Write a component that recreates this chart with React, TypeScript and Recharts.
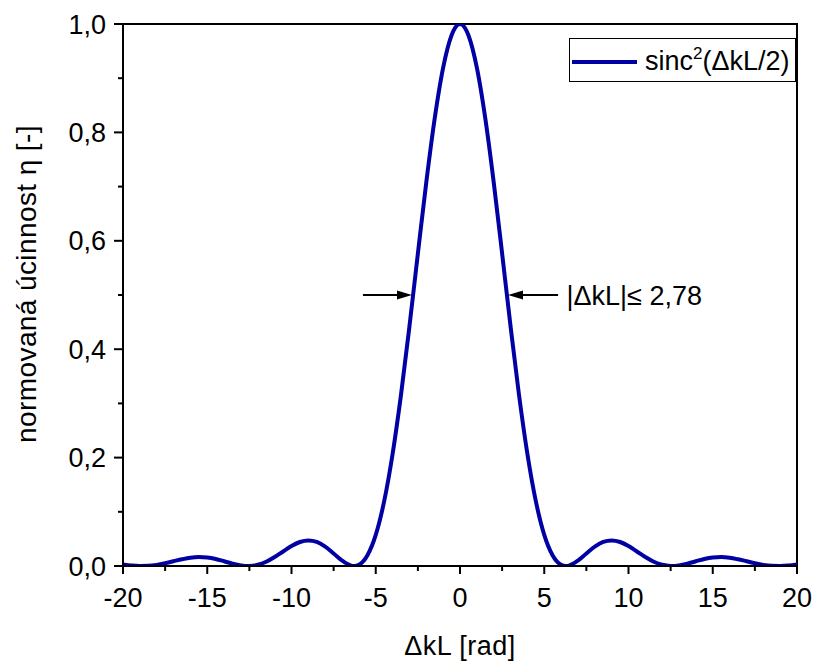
import React from 'react';
import {
  LineChart,
  Line,
  XAxis,
  YAxis,
  ReferenceArea,
  ReferenceLine,
  ReferenceDot,
  Legend,
  Label,
} from 'recharts';

const FONT = '"Liberation Sans", Arial, sans-serif';
const CURVE = '#0000A4';

// ΔkL [rad]
const dkl = [
  -20, -19.5, -19, -18.5, -18, -17.5, -17, -16.5, -16, -15.5, -15, -14.5, -14, -13.5, -13, -12.5, -12,
  -11.5, -11, -10.5, -10, -9.5, -9, -8.5, -8, -7.5, -7, -6.5, -6.28, -6, -5.5, -5, -4.5, -4, -3.5, -3,
  -2.5, -2, -1.5, -1, -0.5, 0, 0.5, 1, 1.5, 2, 2.5, 3, 3.5, 4, 4.5, 5, 5.5, 6, 6.28, 6.5, 7, 7.5, 8,
  8.5, 9, 9.5, 10, 10.5, 11, 11.5, 12, 12.5, 13, 13.5, 14, 14.5, 15, 15.5, 16, 16.5, 17, 17.5, 18,
  18.5, 19, 19.5, 20,
];

// normovaná účinnost η [-]
const eta = [
  0.003, 0.0011, 0.0001, 0.0004, 0.0021, 0.0051, 0.0088, 0.0124, 0.0153, 0.0165, 0.0156, 0.0129, 0.0088,
  0.0044, 0.0011, 0.0, 0.0022, 0.0078, 0.0165, 0.0268, 0.0368, 0.0443, 0.0472, 0.0443, 0.0358, 0.0232,
  0.01, 0.0011, 0.0, 0.0022, 0.0193, 0.0573, 0.1196, 0.2067, 0.3162, 0.4422, 0.5764, 0.7081, 0.826,
  0.9194, 0.9793, 1.0, 0.9793, 0.9194, 0.826, 0.7081, 0.5764, 0.4422, 0.3162, 0.2067, 0.1196, 0.0573,
  0.0193, 0.0022, 0.0, 0.0011, 0.01, 0.0232, 0.0358, 0.0443, 0.0472, 0.0443, 0.0368, 0.0268, 0.0165,
  0.0078, 0.0022, 0.0, 0.0011, 0.0044, 0.0088, 0.0129, 0.0156, 0.0165, 0.0153, 0.0124, 0.0088, 0.0051,
  0.0021, 0.0004, 0.0001, 0.0011, 0.003,
];

const xTicks = [-20, -17.5, -15, -12.5, -10, -7.5, -5, -2.5, 0, 2.5, 5, 7.5, 10, 12.5, 15, 17.5, 20];
const xMajor = [-20, -15, -10, -5, 0, 5, 10, 15, 20];
const yTicks = [0, 0.1, 0.2, 0.3, 0.4, 0.5, 0.6, 0.7, 0.8, 0.9, 1.0];
const yMajor = [0, 0.2, 0.4, 0.6, 0.8, 1.0];

const xTitle = 'ΔkL [rad]';
const yTitle = 'normovaná úcinnost η [-]';

// annotation: |ΔkL| ≤ 2,78 at η = 0.5
const annLevel = 0.5;
const annLeft = [-5.76, -2.85];
const annRight = [5.82, 2.85];
const annTextX = 6.32;
const annText = '|ΔkL|≤ 2,78';

const data = dkl.map((x, i) => ({ x, eta: eta[i] }));

const fmtY = (v: number) => v.toFixed(1).replace('.', ',');
const fmtX = (v: number) => String(v);

const XTick = (props: any) => {
  const { x, y, payload } = props;
  const v = payload.value;
  const major = xMajor.some((m) => Math.abs(m - v) < 1e-9);
  return (
    <g>
      <line x1={x} x2={x} y1={y} y2={y + (major ? 8 : 5)} stroke="#000" strokeWidth={2} />
      {major && (
        <text x={x} y={y + 41} textAnchor="middle" fontFamily={FONT} fontSize={27} fill="#000">
          {fmtX(v)}
        </text>
      )}
    </g>
  );
};

const YTick = (props: any) => {
  const { x, y, payload } = props;
  const v = payload.value;
  const major = yMajor.some((m) => Math.abs(m - v) < 1e-9);
  return (
    <g>
      <line x1={x - (major ? 9 : 5)} x2={x} y1={y} y2={y} stroke="#000" strokeWidth={2} />
      {major && (
        <text x={x - 17} y={y + 9.5} textAnchor="end" fontFamily={FONT} fontSize={27} fill="#000">
          {fmtY(v)}
        </text>
      )}
    </g>
  );
};

const Arrow = (props: any) => {
  const { x1, y1, x2, y2 } = props;
  const dir = x2 > x1 ? 1 : -1;
  const hl = 15;
  const hw = 4.5;
  return (
    <g>
      <line x1={x1} y1={y1} x2={x2 - dir * hl + dir * 1} y2={y2} stroke="#000" strokeWidth={2} />
      <polygon
        points={`${x2},${y2} ${x2 - dir * hl},${y2 - hw} ${x2 - dir * hl},${y2 + hw}`}
        fill="#000"
      />
    </g>
  );
};

const AnnText = (props: any) => {
  const { cx, cy } = props;
  return (
    <text x={cx} y={cy + 9.5} fontFamily={FONT} fontSize={27} fill="#000">
      {annText}
    </text>
  );
};

const YTitle = (props: any) => {
  const vb = props.viewBox || { x: 0, y: 24, width: 123, height: 542 };
  const cx = vb.x + 36;
  const cy = vb.y + vb.height / 2 - 11;
  return (
    <text
      x={cx}
      y={cy}
      transform={`rotate(-90 ${cx} ${cy})`}
      textAnchor="middle"
      fontFamily={FONT}
      fontSize={28}
      letterSpacing={0.4}
      fill="#000"
    >
      {yTitle}
    </text>
  );
};

const LegendBox = (props: any) => {
  const color = props.payload && props.payload[0] ? props.payload[0].color : CURVE;
  return (
    <svg width={227} height={44} style={{ display: 'block' }}>
      <rect x={0.5} y={0.5} width={226} height={43} fill="#fff" stroke="#000" strokeWidth={1} />
      <line x1={3} x2={68} y1={24} y2={24} stroke={color} strokeWidth={4} />
      <text x={76} y={32} fontFamily={FONT} fontSize={27} fill="#000">
        sinc
        <tspan fontSize={17} dy={-11}>
          2
        </tspan>
        <tspan dy={11}>(ΔkL/2)</tspan>
      </text>
    </svg>
  );
};

export default function App() {
  return (
    <div style={{ position: 'absolute', left: 0, top: 0, width: 814, height: 662, background: '#fff' }}>
      <LineChart
        width={814}
        height={662}
        data={data}
        margin={{ top: 24, right: 17, bottom: 0, left: 0 }}
        style={{ fontFamily: FONT }}
      >
        <ReferenceArea
          x1={-20}
          x2={20}
          y1={0}
          y2={1}
          fill="none"
          fillOpacity={0}
          stroke="#000"
          strokeWidth={2}
          ifOverflow="visible"
        />
        <XAxis
          type="number"
          dataKey="x"
          domain={[-20, 20]}
          ticks={xTicks}
          interval={0}
          tickSize={0}
          tickMargin={0}
          tickLine={false}
          tick={<XTick />}
          axisLine={{ stroke: '#000', strokeWidth: 2 }}
          height={96}
          allowDataOverflow
        >
          <Label
            value={xTitle}
            position="insideBottom"
            offset={7}
            style={{ fontFamily: FONT, fontSize: 27, fill: '#000', letterSpacing: 0.5 }}
          />
        </XAxis>
        <YAxis
          type="number"
          domain={[0, 1]}
          ticks={yTicks}
          interval={0}
          tickSize={0}
          tickMargin={0}
          tickLine={false}
          tick={<YTick />}
          axisLine={{ stroke: '#000', strokeWidth: 2 }}
          width={123}
          allowDataOverflow
        >
          <Label content={<YTitle />} />
        </YAxis>
        <Line
          type="monotone"
          dataKey="eta"
          name="sinc²(ΔkL/2)"
          stroke={CURVE}
          strokeWidth={4}
          dot={false}
          activeDot={false}
          isAnimationActive={false}
        />
        <ReferenceLine
          segment={[
            { x: annLeft[0], y: annLevel },
            { x: annLeft[1], y: annLevel },
          ]}
          shape={<Arrow />}
        />
        <ReferenceLine
          segment={[
            { x: annRight[0], y: annLevel },
            { x: annRight[1], y: annLevel },
          ]}
          shape={<Arrow />}
        />
        <ReferenceDot x={annTextX} y={annLevel} r={0} shape={<AnnText />} />
        <Legend
          layout="vertical"
          align="center"
          verticalAlign="middle"
          content={<LegendBox />}
          wrapperStyle={{ left: 569, top: 38, width: 227, height: 44, margin: 0, padding: 0 }}
        />
      </LineChart>
    </div>
  );
}
